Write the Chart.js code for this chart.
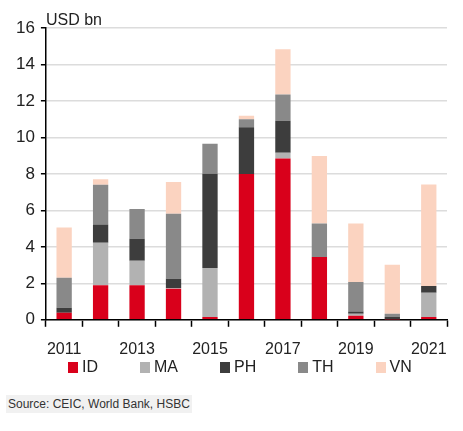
<!DOCTYPE html>
<html>
<head>
<meta charset="utf-8">
<script src="https://cdn.jsdelivr.net/npm/chart.js@4.4.1/dist/chart.umd.min.js"></script>
<style>
    body { margin: 0; background: #fff; font-family: "Liberation Sans", Arial, sans-serif; }
    #wrap { position: relative; width: 463px; height: 431px; }
    #investChart { position: absolute; left: 0; top: 0; }
    #legend { position: absolute; left: 68px; top: 358px; display: flex; font-size: 16px; color: #222; }
    #legend .item { display: flex; align-items: center; margin-right: 42px; }
    #legend .box { width: 10px; height: 11px; margin-right: 4px; }
    #source { position: absolute; left: 6px; top: 395px; padding: 2px 2px; background: #f1f1f1; font-size: 12px; color: #333; }
</style>
</head>
<body>
<div id="wrap">
    <canvas id="investChart" width="463" height="431"></canvas>
    <div id="legend"></div>
    <div id="source">Source: CEIC, World Bank, HSBC</div>
</div>
<script>
const years = ['2011', '2012', '2013', '2014', '2015', '2016', '2017', '2018', '2019', '2020', '2021'];
const seriesNames = ['ID', 'MA', 'PH', 'TH', 'VN'];
const idValues = [0.38, 1.9, 1.9, 1.7, 0.15, 8.0, 8.85, 3.45, 0.22, 0.02, 0.15];
const maValues = [0, 2.33, 1.34, 0.05, 2.69, 0, 0.31, 0, 0.11, 0, 1.33];
const phValues = [0.28, 1.0, 1.2, 0.5, 5.17, 2.56, 1.76, 0, 0.13, 0.13, 0.37];
const thValues = [1.65, 2.18, 1.64, 3.57, 1.65, 0.43, 1.43, 1.83, 1.61, 0.18, 0];
const vnValues = [2.75, 0.3, 0, 1.74, 0, 0.2, 2.48, 3.7, 3.21, 2.69, 5.57];
const colors = ['#d9001b', '#b2b2b2', '#3d3d3d', '#898989', '#fbd3c0'];

const canvas = document.getElementById('investChart');

// axis caption above the plot, left aligned with the y axis
const UnitLabel = {
    id: 'unitLabel',
    afterDraw(chart) {
        const ctx = chart.ctx;
        ctx.save();
        ctx.font = '16px "Liberation Sans", Arial, sans-serif';
        ctx.fillStyle = '#222';
        ctx.textBaseline = 'bottom';
        ctx.fillText('USD bn', chart.chartArea.left, chart.chartArea.top + 1);
        ctx.restore();
    }
};

const datasets = [idValues, maValues, phValues, thValues, vnValues].map((vals, i) => ({
    label: seriesNames[i],
    data: vals,
    backgroundColor: colors[i],
    barPercentage: 0.42,
    categoryPercentage: 1.0
}));

const chart = new Chart(canvas, {
    type: 'bar',
    data: { labels: years, datasets: datasets },
    plugins: [UnitLabel],
    options: {
        responsive: false,
        animation: false,
        layout: { padding: { top: 28, right: 16, bottom: 59, left: 10 } },
        plugins: {
            legend: { display: false },
            tooltip: { enabled: false }
        },
        scales: {
            x: {
                stacked: true,
                grid: {
                    offset: true,
                    drawOnChartArea: false,
                    drawTicks: true,
                    tickLength: 7,
                    tickColor: '#000',
                    tickWidth: 1.5
                },
                border: { color: '#000', width: 1.5 },
                ticks: {
                    autoSkip: false,
                    maxRotation: 0,
                    color: '#222',
                    font: { family: '"Liberation Sans", Arial, sans-serif', size: 16 },
                    padding: 13,
                    callback: function (value, index) {
                        return index % 2 === 0 ? this.getLabelForValue(value) : '';
                    }
                }
            },
            y: {
                stacked: true,
                min: 0,
                max: 16,
                grid: {
                    color: '#dcdcdc',
                    lineWidth: 1.5,
                    tickColor: '#000',
                    tickLength: 5
                },
                border: { color: '#000', width: 1.5 },
                ticks: {
                    stepSize: 2,
                    color: '#222',
                    padding: 6,
                    font: { family: '"Liberation Sans", Arial, sans-serif', size: 17 }
                }
            }
        }
    }
});

// legend built from the datasets
const legendEl = document.getElementById('legend');
chart.data.datasets.forEach(ds => {
    const item = document.createElement('div');
    item.className = 'item';
    const box = document.createElement('span');
    box.className = 'box';
    box.style.background = ds.backgroundColor;
    const txt = document.createElement('span');
    txt.textContent = ds.label;
    item.appendChild(box);
    item.appendChild(txt);
    legendEl.appendChild(item);
});
</script>
</body>
</html>
